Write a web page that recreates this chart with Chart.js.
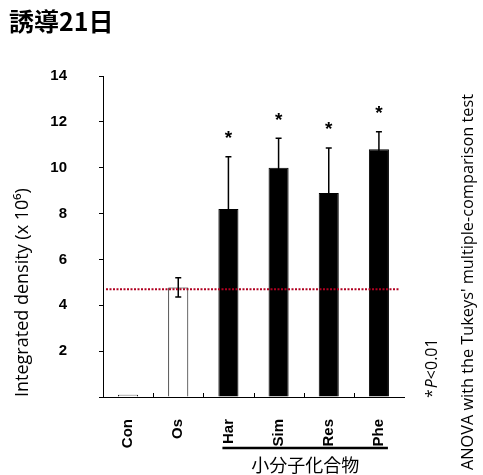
<!DOCTYPE html>
<html>
<head>
<meta charset="utf-8">
<script src="https://cdn.jsdelivr.net/npm/chart.js@4/dist/chart.umd.min.js"></script>
<style>
  body { margin: 0; background: #fff; }
  canvas { display: block; }
</style>
</head>
<body>
<canvas id="chart" width="483" height="475"></canvas>
<script>
// data
const labels = ["Con", "Os", "Har", "Sim", "Res", "Phe"];
const means = [0.1, 4.78, 8.2, 10.0, 8.9, 10.8];
const errors = [0, 0.42, 2.28, 1.28, 1.96, 0.77];
const significant = [false, false, true, true, true, true];
const barFill = ["#ffffff", "#ffffff", "#000000", "#000000", "#000000", "#000000"];
const refLevel = 4.7;
const yMax = 14;
const yStep = 2;
const groupFrom = 2, groupTo = 5;
const groupLabel = "小分子化合物";
const titleText = "誘導21日";
const yTitle = "Integrated density (x 10⁶)";
const noteP = "<0.01";
const noteTest = "ANOVA with the Tukeys' multiple-comparison test";

// extras: error bars, asterisks, dotted line, labels
const extras = {
  id: "extras",
  afterDatasetsDraw(chart) {
    const ctx = chart.ctx;
    const x = chart.scales.x, y = chart.scales.y;
    const area = chart.chartArea;

    // error bars
    ctx.save();
    ctx.strokeStyle = "#000";
    ctx.lineWidth = 1.5;
    means.forEach((m, i) => {
      if (!errors[i]) return;
      const cx = x.getPixelForValue(i);
      const top = y.getPixelForValue(m + errors[i]);
      const bot = y.getPixelForValue(m - errors[i]);
      ctx.beginPath();
      ctx.moveTo(cx, top); ctx.lineTo(cx, bot);
      ctx.moveTo(cx - 3, top); ctx.lineTo(cx + 3, top);
      ctx.moveTo(cx - 3, bot); ctx.lineTo(cx + 3, bot);
      ctx.stroke();
    });

    // asterisks
    ctx.fillStyle = "#000";
    ctx.font = "bold 19px 'Liberation Sans'";
    ctx.textAlign = "center";
    ctx.textBaseline = "middle";
    means.forEach((m, i) => {
      if (!significant[i]) return;
      const cx = x.getPixelForValue(i);
      const top = y.getPixelForValue(m + errors[i]);
      ctx.fillText("*", cx, top - 18);
    });

    // dotted reference line
    const ry = y.getPixelForValue(refLevel);
    ctx.strokeStyle = "#b00020";
    ctx.lineWidth = 2;
    ctx.setLineDash([2, 1.5]);
    ctx.beginPath();
    ctx.moveTo(area.left + 3, ry);
    ctx.lineTo(area.right - 4, ry);
    ctx.stroke();
    ctx.restore();
  },
  afterDraw(chart) {
    const ctx = chart.ctx;
    const x = chart.scales.x;
    const area = chart.chartArea;
    ctx.save();
    ctx.fillStyle = "#000";
    ctx.strokeStyle = "#000";

    // small inner ticks between categories
    ctx.lineWidth = 1;
    for (let i = 1; i < labels.length; i++) {
      const px = Math.round((x.getPixelForValue(i - 1) + x.getPixelForValue(i)) / 2) + 0.5;
      ctx.beginPath();
      ctx.moveTo(px, area.bottom);
      ctx.lineTo(px, area.bottom - 4);
      ctx.stroke();
    }

    // title
    ctx.font = "bold 25px 'Noto Sans CJK JP'";
    ctx.textAlign = "left";
    ctx.textBaseline = "middle";
    ctx.fillText(titleText, 9, 21);

    // group bracket
    const gx1 = x.getPixelForValue(groupFrom) - 6;
    const gx2 = x.getPixelForValue(groupTo) + 9;
    ctx.lineWidth = 2.5;
    ctx.beginPath();
    ctx.moveTo(gx1, 448);
    ctx.lineTo(gx2, 448);
    ctx.stroke();
    ctx.font = "18px 'Noto Sans CJK JP'";
    ctx.textAlign = "center";
    ctx.fillText(groupLabel, (gx1 + gx2) / 2, 465);

    // right-hand notes, rotated
    ctx.translate(432, 398);
    ctx.rotate(-Math.PI / 2);
    ctx.textAlign = "left";
    ctx.font = "16px 'Open Sans'";
    ctx.fillText("*", 0, 0);
    let off = ctx.measureText("*").width + 1;
    ctx.font = "italic 16px 'Open Sans'";
    ctx.fillText("P", off, 0);
    off += ctx.measureText("P").width;
    ctx.font = "16px 'Open Sans'";
    ctx.fillText(noteP, off, 0);
    ctx.restore();

    ctx.save();
    ctx.fillStyle = "#000";
    ctx.translate(468, 470);
    ctx.rotate(-Math.PI / 2);
    ctx.font = "16.3px 'Open Sans'";
    ctx.textAlign = "left";
    ctx.textBaseline = "middle";
    ctx.fillText(noteTest, 0, 0);
    ctx.restore();
  }
};

new Chart(document.getElementById("chart"), {
  type: "bar",
  data: {
    labels: labels,
    datasets: [{
      data: means,
      backgroundColor: barFill,
      borderColor: "#000",
      borderWidth: 1,
      categoryPercentage: 1,
      barPercentage: 0.4
    }]
  },
  options: {
    responsive: false,
    animation: false,
    layout: { padding: { left: 0, right: 79, top: 76, bottom: 0 } },
    plugins: { legend: { display: false }, tooltip: { enabled: false } },
    scales: {
      x: {
        offset: true,
        grid: { display: false },
        border: { color: "#000", width: 1 },
        ticks: {
          color: "#000",
          font: { family: "'Liberation Sans'", size: 15, weight: "bold" },
          minRotation: 90, maxRotation: 90,
          autoSkip: false,
          padding: 14
        },
        afterFit(s) { s.height = 78; }
      },
      y: {
        min: 0, max: yMax,
        grid: { drawOnChartArea: false, tickLength: 4, color: "#000" },
        border: { color: "#000", width: 1 },
        ticks: {
          stepSize: yStep,
          color: "#000",
          padding: 32,
          font: { family: "'Liberation Sans'", size: 15, weight: "bold" },
          callback: v => (v === 0 ? "" : v)
        },
        title: {
          display: true,
          text: yTitle,
          align: "start",
          color: "#000",
          font: { family: "'Open Sans'", size: 18 },
          padding: { top: 12, bottom: 0 }
        },
        afterFit(s) { s.width = 103; }
      }
    }
  },
  plugins: [extras]
});
</script>
</body>
</html>
